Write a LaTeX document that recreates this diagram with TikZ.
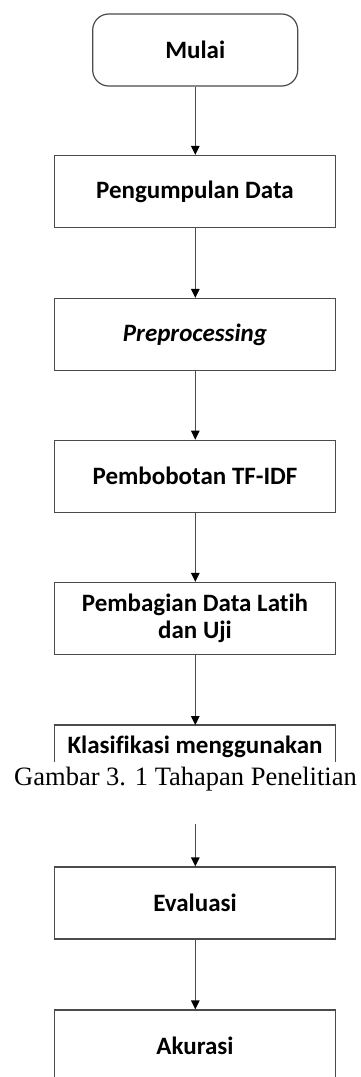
\documentclass[tikz,border=0pt]{standalone}
\usepackage{fontspec}
\setmainfont[Ligatures=NoCommon]{Carlito}
\newfontfamily\capfont{Liberation Serif}
\usetikzlibrary{arrows.meta}
\definecolor{linec}{RGB}{75,75,75}
\begin{document}
\begin{tikzpicture}[x=1pt,y=-1pt,
  boxtxt/.style={inner sep=0pt, align=center, font=\fontsize{25}{27.6}\selectfont\bfseries},
  stepbox/.style={boxtxt, draw=linec, line width=1.2pt, minimum width=281.4pt, minimum height=72pt},
  frame/.style={draw=linec, line width=1.2pt},
  conn/.style={draw=linec, line width=1.2pt, -{Triangle[length=9pt,width=8.5pt,color=black]}}]
\useasboundingbox (0,0) rectangle (360,1077);
\clip (0,0) rectangle (360,1077);
\fill[white] (0,0) rectangle (360,1077);
\node[boxtxt, draw=linec, line width=1.2pt, rounded corners=16pt, minimum width=205pt, minimum height=72pt] (mulai) at (195.2,50) {Mulai};
\node[stepbox] (kumpul) at (195,191.5) {Pengumpulan Data};
\node[stepbox] (prep) at (195,334.5) {\textit{Preprocessing}};
\node[stepbox] (tfidf) at (195,476.3) {Pembobotan TF-IDF};
\node[stepbox] (bagi) at (195,618.5) {Pembagian Data Latih\\dan Uji};
\node[boxtxt] (klas) at (195,747.3) {Klasifikasi menggunakan};
\coordinate (klastop) at (195.3,725);
\draw[frame] (54.3,761.7) -- (54.3,725) -- (335.7,725) -- (335.7,761.7);
\node[anchor=base, inner sep=0pt, font=\capfont\fontsize{26.5}{30}\selectfont] (cap) at (185.5,785.5) {Gambar 3. 1 Tahapan Penelitian};
\coordinate (evin) at (195.3,824);
\node[stepbox] (eval) at (195,903) {Evaluasi};
\node[stepbox] (akur) at (195,1046) {Akurasi};
\draw[conn] (mulai.south -| evin) -- (kumpul.north -| evin);
\draw[conn] (kumpul.south -| evin) -- (prep.north -| evin);
\draw[conn] (prep.south -| evin) -- (tfidf.north -| evin);
\draw[conn] (tfidf.south -| evin) -- (bagi.north -| evin);
\draw[conn] (bagi.south -| evin) -- (klastop);
\draw[conn] (evin) -- (eval.north -| evin);
\draw[conn] (eval.south -| evin) -- (akur.north -| evin);
\end{tikzpicture}
\end{document}
